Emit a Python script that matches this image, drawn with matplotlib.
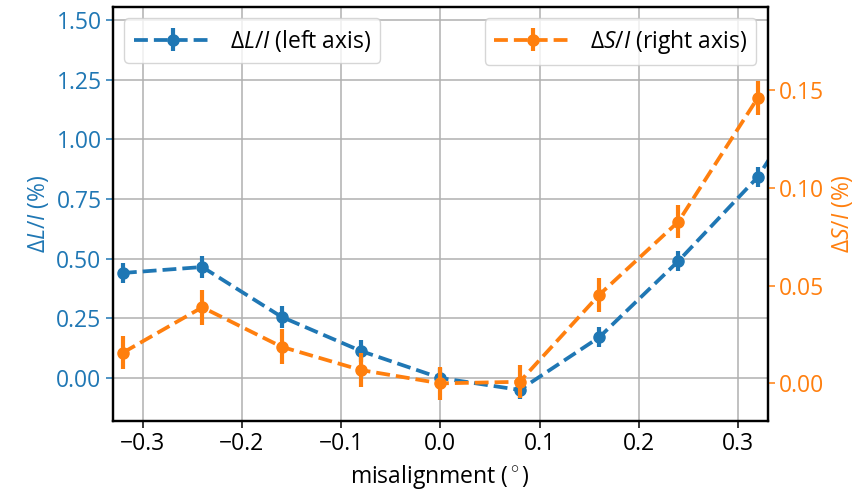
import numpy as np
import matplotlib
matplotlib.use("Agg")
import matplotlib.pyplot as plt

plt.rcParams['font.family'] = ['Open Sans', 'DejaVu Sans']
plt.rcParams['mathtext.fontset'] = 'custom'
plt.rcParams['mathtext.rm'] = 'Open Sans'
plt.rcParams['mathtext.it'] = 'Open Sans:italic'
plt.rcParams['font.size'] = 16.5

# misalignment in degrees
mis = [-0.32, -0.24, -0.16, -0.08, 0.0, 0.08, 0.16, 0.24, 0.32, 0.40]
dL = [0.44, 0.465, 0.256, 0.113, 0.0, -0.05, 0.17, 0.49, 0.842, 1.36]
dL_err = [0.042, 0.044, 0.045, 0.045, 0.04, 0.04, 0.042, 0.042, 0.042, 0.045]

mis_s = [-0.32, -0.24, -0.16, -0.08, 0.0, 0.08, 0.16, 0.24, 0.32]
dS = [0.0157, 0.0389, 0.0187, 0.0068, 0.0, 0.0008, 0.0452, 0.0827, 0.146]
dS_err = [0.0085, 0.0088, 0.0089, 0.0087, 0.0085, 0.0085, 0.0086, 0.0086, 0.0085]

blue = '#1f77b4'
orange = '#ff7f0e'

fig, ax = plt.subplots(figsize=(8.65, 4.97), dpi=100)
fig.subplots_adjust(left=0.1306, right=0.8875, bottom=0.1535, top=0.986)

l1 = ax.errorbar(mis, dL, yerr=dL_err, fmt='o--', color=blue, lw=2.7,
                 elinewidth=3, ms=8, label=r'$\Delta L/I$ (left axis)')
ax.set_xlim(-0.33, 0.33)
ax.set_ylim(-0.179, 1.5545)
ax.set_xlabel(r'misalignment ($^\circ$)', labelpad=5)
ax.set_ylabel(r'$\Delta L/I$ (%)', color=blue)
ax.tick_params(axis='y', colors=blue)
ax.tick_params(axis='both', length=4.7, width=1.1)
ax.tick_params(axis='x', colors='black')
ax.grid(True, color='#b0b0b0', lw=1.1)
ax.set_yticks([0.0, 0.25, 0.5, 0.75, 1.0, 1.25, 1.5])
ax.yaxis.set_major_formatter(matplotlib.ticker.FormatStrFormatter('%.2f'))
for s in ax.spines.values():
    s.set_linewidth(1.6)

ax2 = ax.twinx()
l2 = ax2.errorbar(mis_s, dS, yerr=dS_err, fmt='o--', color=orange, lw=2.7,
                  elinewidth=3, ms=8, label=r'$\Delta S/I$ (right axis)')
ax2.set_ylim(-0.0191, 0.1925)
ax2.set_yticks([0.0, 0.05, 0.1, 0.15])
ax2.yaxis.set_major_formatter(matplotlib.ticker.FormatStrFormatter('%.2f'))
ax2.set_ylabel(r'$\Delta S/I$ (%)', color=orange)
ax2.tick_params(axis='y', colors=orange, length=4.7, width=1.1)
for s in ax2.spines.values():
    s.set_linewidth(1.6)

leg1 = ax2.legend(handles=[l1], loc='upper left', handlelength=3.4)
ax2.add_artist(leg1)
ax2.legend(handles=[l2], loc='upper right', handlelength=3.4)

fig.savefig('out.png', dpi=100)
